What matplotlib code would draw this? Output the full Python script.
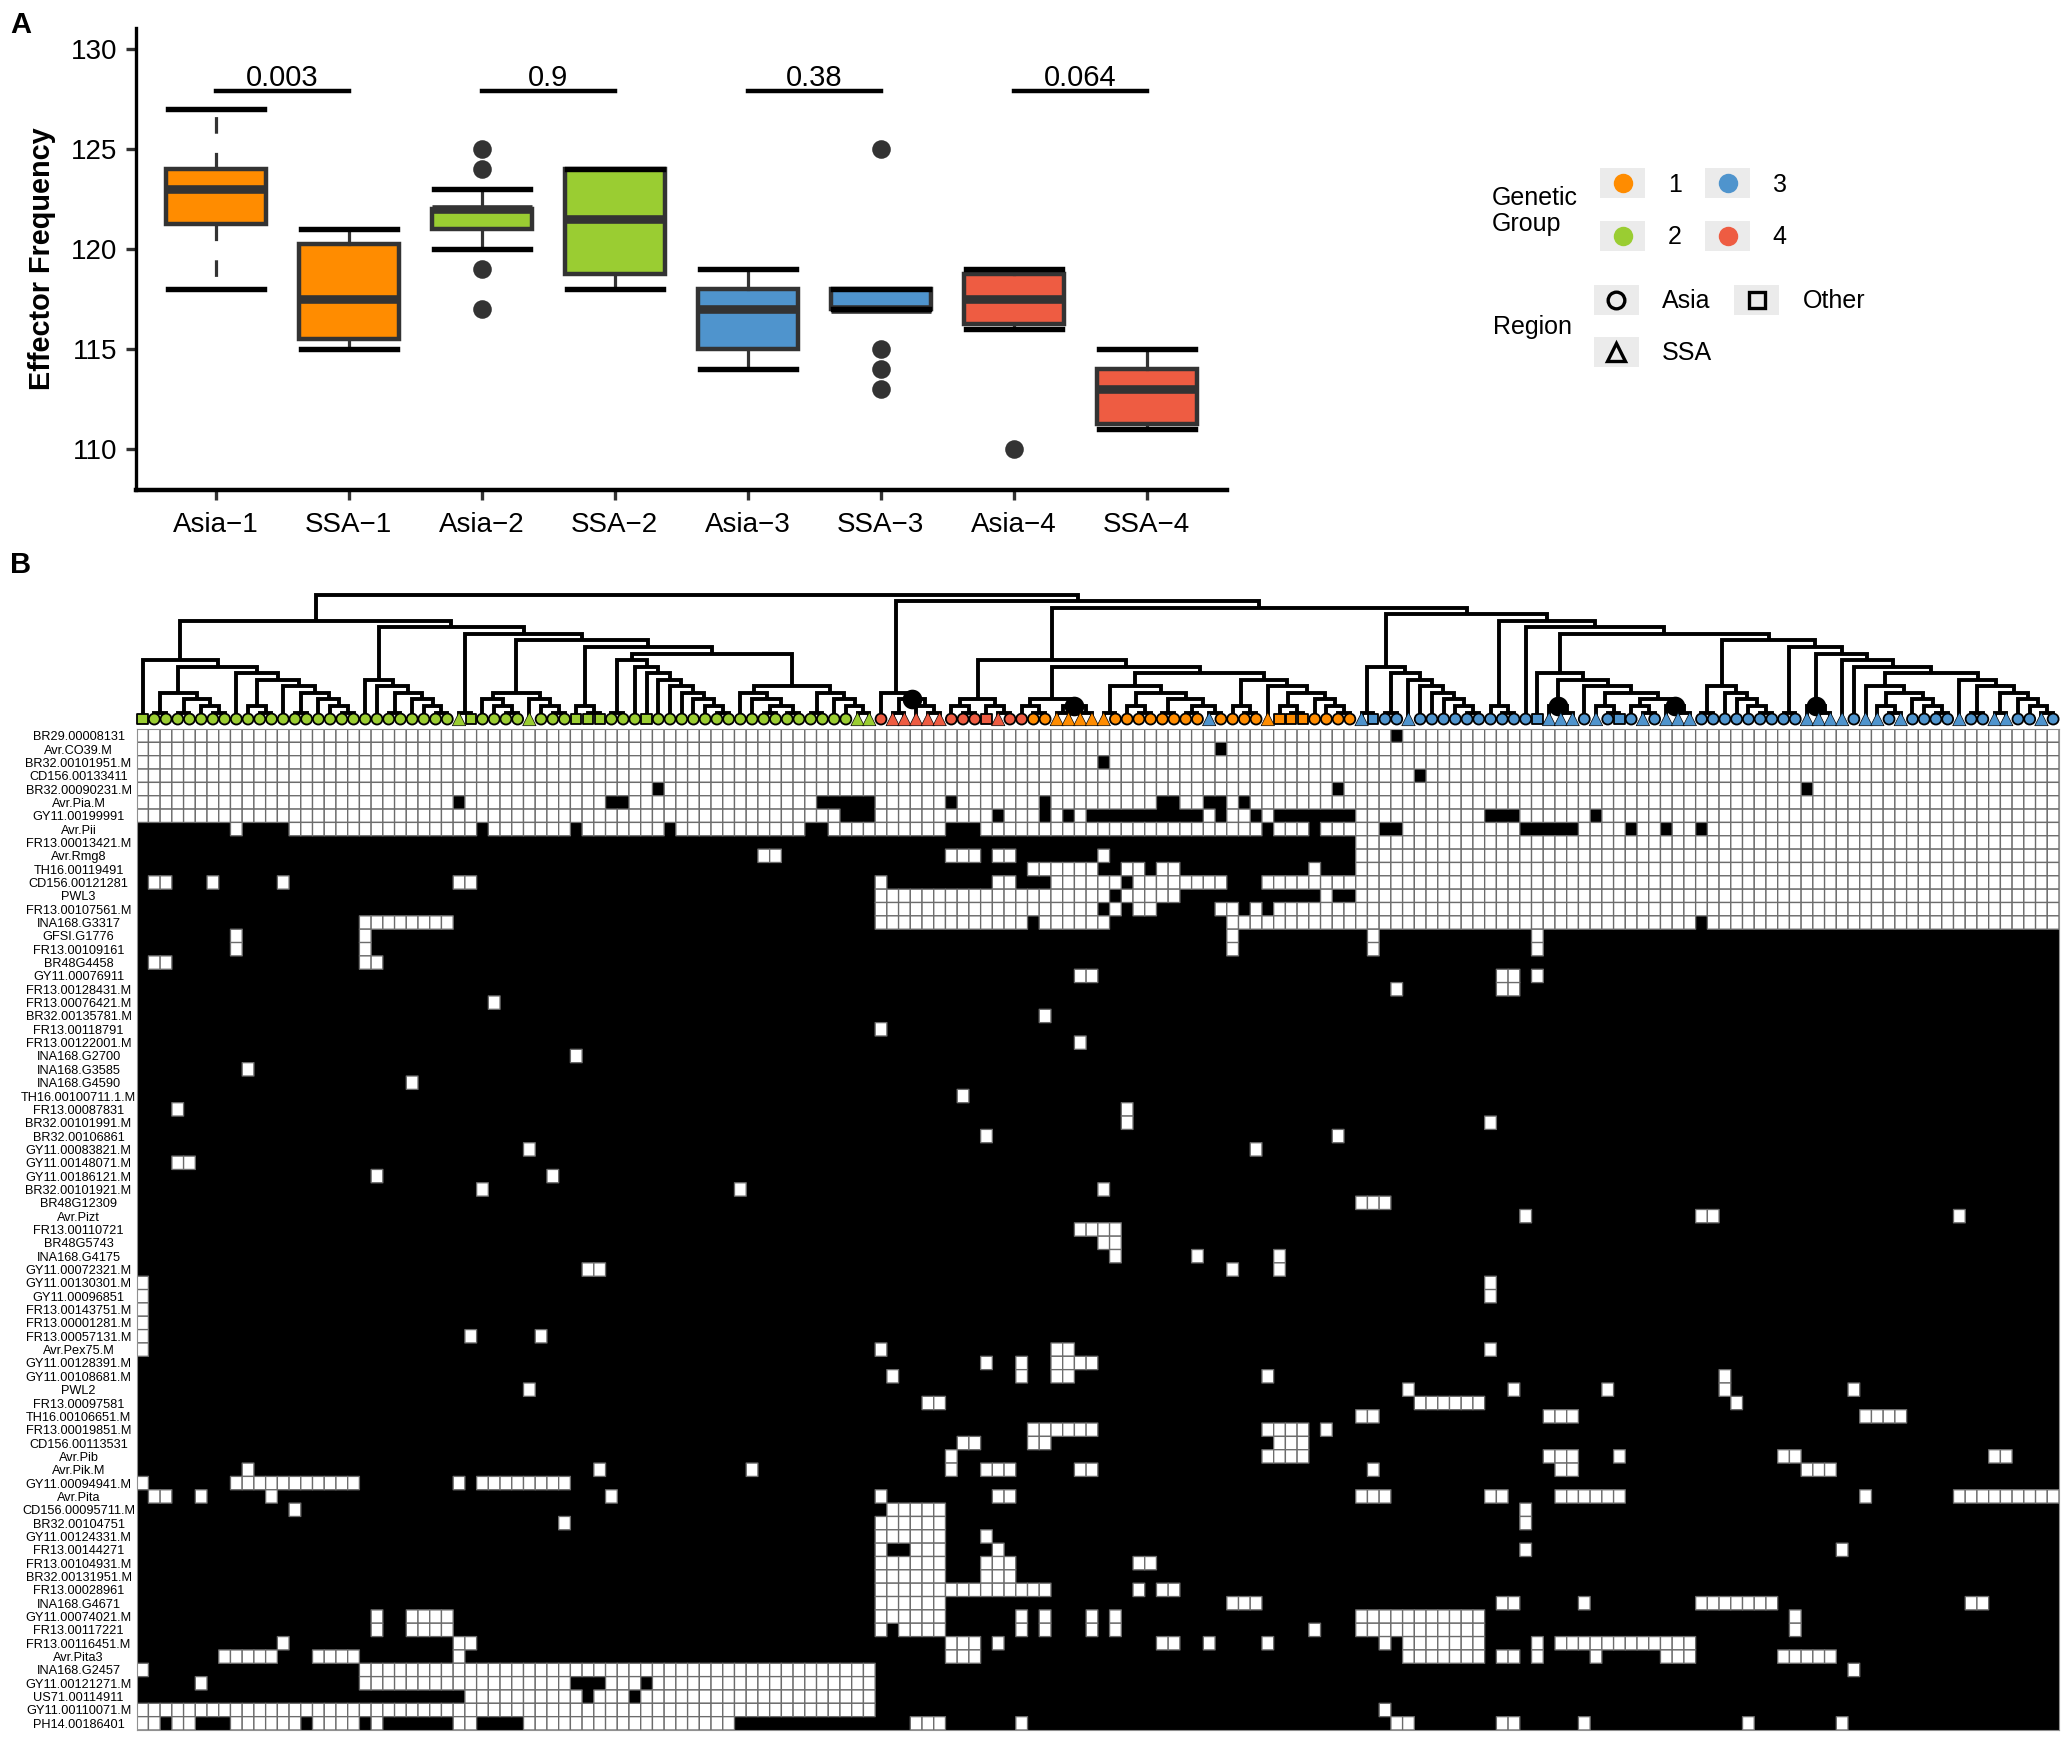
import numpy as np
import matplotlib
matplotlib.use('Agg')
import matplotlib.pyplot as plt
from matplotlib.colors import ListedColormap
from matplotlib.patches import Rectangle

plt.rcParams['font.family'] = ['Liberation Sans', 'DejaVu Sans']

W, H = 2071, 1741
ORANGE, GREEN, BLUE, RED = '#FF8C00', '#9ACD32', '#4F94CD', '#EE5C42'

########################### panel A data ###########################
box_labels = ['Asia\u22121', 'SSA\u22121', 'Asia\u22122', 'SSA\u22122', 'Asia\u22123', 'SSA\u22123', 'Asia\u22124', 'SSA\u22124']
box_colors = [ORANGE, ORANGE, GREEN, GREEN, BLUE, BLUE, RED, RED]
whisker_hi = [127, 121, 123, 124, 119, 118, 119, 115]
q3_values = [124, 120.25, 122, 124, 118, 118, 118.75, 114]
medians = [123, 117.5, 122, 121.5, 117, 117, 117.5, 113]
q1_values = [121.25, 115.5, 121, 118.75, 115, 117, 116.25, 111.25]
whisker_lo = [118, 115, 120, 118, 114, 117, 116, 111]
outliers = [[], [], [125, 124, 119, 117], [], [], [125, 115, 114, 113], [110], []]
p_values = ['0.003', '0.9', '0.38', '0.064']

########################### panel B data ###########################
effectors = ['BR29.00008131', 'Avr.CO39.M', 'BR32.00101951.M', 'CD156.00133411', 'BR32.00090231.M',
             'Avr.Pia.M', 'GY11.00199991', 'Avr.Pii', 'FR13.00013421.M', 'Avr.Rmg8', 'TH16.00119491',
             'CD156.00121281', 'PWL3', 'FR13.00107561.M', 'INA168.G3317', 'GFSI.G1776', 'FR13.00109161',
             'BR48G4458', 'GY11.00076911', 'FR13.00128431.M', 'FR13.00076421.M', 'BR32.00135781.M',
             'FR13.00118791', 'FR13.00122001.M', 'INA168.G2700', 'INA168.G3585', 'INA168.G4590',
             'TH16.00100711.1.M', 'FR13.00087831', 'BR32.00101991.M', 'BR32.00106861', 'GY11.00083821.M',
             'GY11.00148071.M', 'GY11.00186121.M', 'BR32.00101921.M', 'BR48G12309', 'Avr.Pizt',
             'FR13.00110721', 'BR48G5743', 'INA168.G4175', 'GY11.00072321.M', 'GY11.00130301.M',
             'GY11.00096851', 'FR13.00143751.M', 'FR13.00001281.M', 'FR13.00057131.M', 'Avr.Pex75.M',
             'GY11.00128391.M', 'GY11.00108681.M', 'PWL2', 'FR13.00097581', 'TH16.00106651.M',
             'FR13.00019851.M', 'CD156.00113531', 'Avr.Pib', 'Avr.Pik.M', 'GY11.00094941.M', 'Avr.Pita',
             'CD156.00095711.M', 'BR32.00104751', 'GY11.00124331.M', 'FR13.00144271', 'FR13.00104931.M',
             'BR32.00131951.M', 'FR13.00028961', 'INA168.G4671', 'GY11.00074021.M', 'FR13.00117221',
             'FR13.00116451.M', 'Avr.Pita3', 'INA168.G2457', 'GY11.00121271.M', 'US71.00114911',
             'GY11.00110071.M', 'PH14.00186401']

# first 8 rows: columns where the effector is present (black)
present_cols = ['107', '92', '82', '109', '44 102 142',
                '27 40-41 58-62 69 77 87-88 91-92 94',
                '60-62 73 77 79 81-90 92 95 97-103 115-117 124',
                '0-7 9-12 29 37 45 57-58 69-71 96 100 106-107 118-122 127 130 133']
# remaining rows: columns where the effector is absent (white)
absent_cols = ['104-163',
               '53-54 69-71 73-74 82 104-163',
               '76-81 84-85 87-88 100 104-163',
               '1-2 6 12 27-28 63 73-74 78-83 85-92 96-163',
               '63-82 84-88 101 104-163',
               '63-81 83 85-86 92-93 95 97-163',
               '19-26 63-75 77-82 93-132 134-163',
               '8 19 93 105 119', '8 19 93 105 119',
               '1-2 19-20',
               '80-81 116-117 119',
               '107 116-117',
               '30', '77', '63', '80', '37', '9', '23', '70',
               '3 84', '84 115', '72 102', '33 95', '3-4', '20 35', '29 51 82',
               '104-106', '118 133-134 155', '80-83', '82-83', '83 90 97', '38-39 93 97',
               '0 115', '0 115', '0', '0', '0 28 34', '0 63 78-79 115',
               '72 75 78-81',
               '64 75 78-79 96 135',
               '33 108 117 125 135 146',
               '67-68 109-114 136',
               '104-105 120-122 147-150',
               '76-81 96-99 101',
               '70-71 76-77 97-99',
               '69 96-99 120-122 126 140-141 158-159',
               '9 39 52 69 72-74 80-81 105 121-122 142-144',
               '0 8-18 27 29-36',
               '1-2 5 11 40 63 73-74 104-106 115-116 121-126 147 155-163',
               '13 64-68 118',
               '36 63-68 118',
               '63-68 72',
               '63 66-68 73 118 145',
               '63-68 72-74 85-86',
               '63-68 72-74',
               '63-77 85 87-88',
               '63-68 93-95 116-117 123 133-139 156-157',
               '20 23-26 63-68 75 77 81 83 104-114 141',
               '20 23-26 63 65-68 75 77 81 83 100 104-114 141',
               '12 27-28 69-71 73 87-88 91 96 106 108-114 119 121-132',
               '7-11 15-18 27 69-71 108-114 116-117 119 124 130-132 140-144',
               '0 19-62 146',
               '5 19-36 40-42 44-62',
               '28-37 39-41 43-62',
               '0-62 106',
               '0-1 3-4 8-13 15-18 20 27-28 33-50 66-68 75 107-108 116-117 123 137 145']

# leaf shape per column: o = Asia, ^ = SSA, s = Other
leaf_shapes = ('s' + 'o' * 26 + '^s' + 'oooo^ooo' + 'sss' + 'ooo' + 's' + 'o' * 17 + '^^'
               + 'o^^^^^' + 'ooo' + 's^oo' + 'oo' + '^^^^^' + 'o' * 8 + '^oooo' + '^sssoooo'
               + '^s' + 'oo^' + 'o' * 10 + 's^^^o^os' + 'o^o^^^' + 'o' * 9 + '^^^^o^^o^' + 'oooo^oo^^oo^o')
group_runs = [(GREEN, 63), (RED, 13), (ORANGE, 15), (BLUE, 1), (ORANGE, 12), (BLUE, 60)]

# clustering: (height, left, right), x = one isolate, P = two identical isolates
x = None
P = (0, x, x)
tail = (1, x, P)
grp_a = (8, x, (7, (3, P, (2, P, tail)), (6, x, (5, tail, (4, x, (3, P, (2, x, tail)))))))
grp_b = (5, x, (4, x, (3, P, (2, x, tail))))
grp_c = (3, (2, x, tail), (2, x, tail))
grp_d = (8, P, (7, x, (6, x, (5, x, (4, x, (3, x, (2, x, tail)))))))
grp_e = (4, (3, x, (2, x, (1, P, P))), (3, P, (2, x, tail)))
green_tree = (14, grp_a, (13, grp_b, (12, P, (11, grp_c, (10, tail, (9, grp_d, grp_e))))))
red_tree = (3, x, (2, P, tail))
orange_a = (2, tail, (1, P, P))
orange_b = (4, P, (3, tail, (2, P, (1, P, P))))
orange_c = (5, tail, (4, x, (3, tail, (2, x, tail))))
orange_tree = (8, (2, tail, tail), (7, orange_a, (6, orange_b, orange_c)))
blue_a = (7, P, (6, P, (5, x, (4, x, (3, x, (2, x, tail))))))
blue_b = (6, x, (5, tail, (4, x, (3, tail, (2, tail, tail)))))
blue_c = (4, P, (3, x, (2, x, tail)))
blue_d = (4, x, (3, tail, (2, x, tail)))
blue_e = (5, x, (4, P, (3, P, (2, x, tail))))
blue_f = (10, P, (9, tail, (8, x, (7, x, (6, blue_d, blue_e)))))
blue_tree = (15, blue_a, (14, tail, (13, x, (12, blue_b, (11, blue_c, blue_f)))))
tree = (18, green_tree, (17, red_tree, (16, orange_tree, blue_tree)))
# nodes with the large black dot: (first column under the node, height)
dot_nodes = [(64, 2), (78, 1), (120, 1), (130, 1), (142, 1)]


def parse_cols(text):
    out = []
    for part in text.split():
        if '-' in part:
            a, b = part.split('-')
            out.extend(range(int(a), int(b) + 1))
        else:
            out.append(int(part))
    return out


def px_axes(left, top, right, bottom):
    return fig.add_axes([left / W, 1 - bottom / H, (right - left) / W, (bottom - top) / H])


def draw_node(node, ax, next_leaf, dots):
    # returns x position, height, and the next free leaf column
    if node is None:
        return next_leaf + 0.5, -1, next_leaf + 1
    first = next_leaf
    h, left, right = node
    xl, hl, next_leaf = draw_node(left, ax, next_leaf, dots)
    xr, hr, next_leaf = draw_node(right, ax, next_leaf, dots)
    ax.plot([xl, xl, xr, xr], [hl, h, h, hr], color='black', lw=2.8, solid_joinstyle='miter',
            solid_capstyle='butt', zorder=2)
    xm = (xl + xr) / 2
    if (first, h) in dots:
        ax.scatter([xm], [h], s=200, color='black', linewidths=0, zorder=3)
    return xm, h, next_leaf


fig = plt.figure(figsize=(W / 100, H / 100), dpi=100, facecolor='white')

########################### panel A ###########################
ax_a = px_axes(136, 28, 1226.6, 490)
stats = []
for i in range(len(box_labels)):
    stats.append(dict(med=medians[i], q1=q1_values[i], q3=q3_values[i], whislo=whisker_lo[i],
                      whishi=whisker_hi[i], fliers=outliers[i], label=box_labels[i]))
parts = ax_a.bxp(stats, positions=range(1, 9), widths=0.75, capwidths=0.72, patch_artist=True,
                 boxprops=dict(edgecolor='#333333', linewidth=3.2),
                 medianprops=dict(color='#333333', linewidth=6.2, solid_capstyle='butt'),
                 whiskerprops=dict(color='#333333', linewidth=2.3),
                 capprops=dict(color='black', linewidth=3.9),
                 flierprops=dict(marker='o', markersize=13.4, markerfacecolor='#333333',
                                 markeredgecolor='#333333', markeredgewidth=0))
for patch, c in zip(parts['boxes'], box_colors):
    patch.set_facecolor(c)
for cap in parts['caps']:
    cap.set_zorder(4)
for whisker in parts['whiskers'][:2]:
    whisker.set_linestyle((0, (5.2, 6.0)))
    whisker.set_dash_capstyle('butt')

for i, p in enumerate(p_values):
    ax_a.plot([2 * i + 1, 2 * i + 2], [127.9, 127.9], color='black', lw=3.2, solid_capstyle='projecting')
    ax_a.text(2 * i + 1.5, 127.85, p, ha='center', va='bottom', fontsize=21)

ax_a.set_xlim(0.4, 8.6)
ax_a.set_ylim(107.95, 131.05)
ax_a.set_yticks([110, 115, 120, 125, 130])
ax_a.set_xticks(range(1, 9))
ax_a.set_xticklabels(box_labels)
ax_a.tick_params(axis='both', labelsize=20, length=7.2, width=2.4, color='#333333', pad=6)
ax_a.tick_params(axis='x', pad=8.6)
ax_a.set_ylabel('Effector Frequency', fontsize=20.8, fontweight='bold')
ax_a.yaxis.set_label_coords(-0.0733, 0.5)
ax_a.spines['top'].set_visible(False)
ax_a.spines['right'].set_visible(False)
ax_a.spines['left'].set_linewidth(2.4)
ax_a.spines['bottom'].set_linewidth(3.2)

########################### panel B heatmap ###########################
n_rows, n_cols = len(effectors), 164
matrix = np.ones((n_rows, n_cols))
for r, spec in enumerate(present_cols):
    matrix[r, :] = 0
    matrix[r, parse_cols(spec)] = 1
for r, spec in enumerate(absent_cols):
    matrix[r + len(present_cols), parse_cols(spec)] = 0

ax_h = px_axes(136.7, 729, 2059, 1730)
ax_h.set_facecolor('black')
# pcolor leaves masked cells out, so the grey grid only shows around white cells
masked = np.ma.masked_where(matrix == 1, matrix)
ax_h.pcolor(np.arange(n_cols + 1), np.arange(n_rows + 1), masked, cmap=ListedColormap(['white']),
            edgecolors='#6c6c6c', linewidth=0.95)
ax_h.set_xlim(0, n_cols)
ax_h.set_ylim(n_rows, 0)
ax_h.set_xticks([])
ax_h.set_yticks(np.arange(n_rows) + 0.5)
ax_h.set_yticklabels(effectors, fontsize=9.2)
ax_h.tick_params(axis='y', length=0, pad=41.9)
for label in ax_h.get_yticklabels():
    label.set_ha('center')
for s in ax_h.spines.values():
    s.set_color('#909090')
    s.set_linewidth(0.8)

########################### panel B tree ###########################
# tree heights: 1 unit = 6.55 px, height 0 at y = 712.5 px
ax_t = px_axes(136.7, 590, 2059, 729)
ax_t.set_xlim(0, n_cols)
ax_t.set_ylim((712.5 - 729) / 6.55, (712.5 - 590) / 6.55)
ax_t.axis('off')
draw_node(tree, ax_t, 0, dot_nodes)

leaf_colors = []
for c, n in group_runs:
    leaf_colors += [c] * n
leaf_x = np.arange(n_cols) + 0.5
leaf_style = {'o': (62, 1.3), 's': (54, 1.3), '^': (92, 0.5)}
for shape in 'os^':
    idx = [i for i in range(n_cols) if leaf_shapes[i] == shape]
    ax_t.scatter(leaf_x[idx], [-1] * len(idx), marker=shape, s=leaf_style[shape][0],
                 c=[leaf_colors[i] for i in idx], edgecolors='black', linewidths=leaf_style[shape][1],
                 zorder=5, clip_on=False)

########################### legend and panel tags (pixel coordinates) ###########################
ov = fig.add_axes([0, 0, 1, 1], zorder=10)
ov.set_xlim(0, W)
ov.set_ylim(H, 0)
ov.axis('off')
ov.patch.set_alpha(0)

ov.text(10, 33, 'A', fontsize=21, fontweight='bold', va='baseline')
ov.text(10, 573, 'B', fontsize=21, fontweight='bold', va='baseline')

ov.text(1492, 211, 'Genetic\nGroup', fontsize=18, va='center', ha='left', linespacing=1.08)
for (lx, ly, c, t) in [(1622.7, 183, ORANGE, '1'), (1622.7, 236, GREEN, '2'), (1727.7, 183, BLUE, '3'), (1727.7, 236, RED, '4')]:
    ov.add_patch(Rectangle((lx - 22.5, ly - 15), 45, 30, facecolor='#EBEBEB', edgecolor='none'))
    ov.plot([lx], [ly], 'o', color=c, ms=14, mew=0)
    ov.text(lx + 52, ly + 1.5, t, fontsize=18, ha='center', va='center')

ov.text(1492.7, 326.7, 'Region', fontsize=18, va='center', ha='left')
for (lx, ly, m, ms, t) in [(1616, 300, 'o', 12, 'Asia'), (1756.7, 300, 's', 11.5, 'Other'), (1616, 352, '^', 13, 'SSA')]:
    ov.add_patch(Rectangle((lx - 22.5, ly - 15), 45, 30, facecolor='#EBEBEB', edgecolor='none'))
    ov.plot([lx], [ly], m, mfc='none', mec='black', ms=ms, mew=2.4)
    ov.text(lx + 46.3, ly + 1.5, t, fontsize=18, ha='left', va='center')

fig.savefig('out.png', dpi=100)
